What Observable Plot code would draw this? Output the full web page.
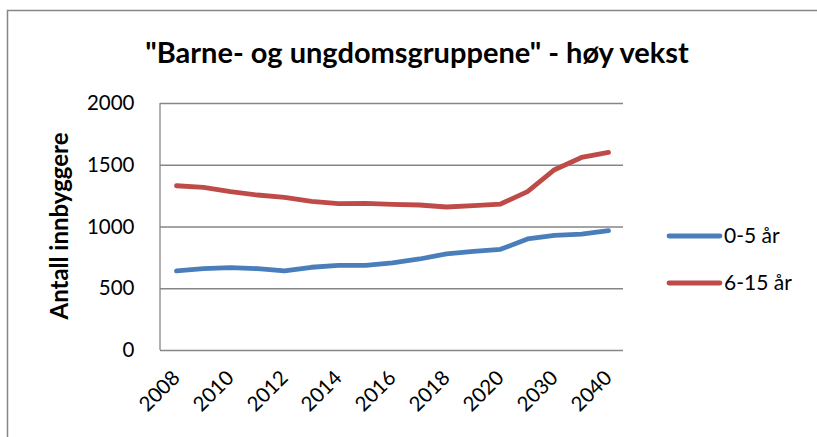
<!DOCTYPE html>
<html>
<head>
<meta charset="utf-8">
<script src="https://cdn.jsdelivr.net/npm/d3@7"></script>
<script src="https://cdn.jsdelivr.net/npm/@observablehq/plot@0.6"></script>
<style>
  html, body { margin: 0; padding: 0; background: #fff; }
  svg { display: block; }
</style>
</head>
<body>
<div id="chart"></div>
<script>
const years = ["2008","2009","2010","2011","2012","2013","2014","2015","2016","2017","2018","2019","2020","2025","2030","2035","2040"];
const tickLabels = ["2008","2010","2012","2014","2016","2018","2020","2030","2040"];
const yTicks = [0, 500, 1000, 1500, 2000];
const series0to5 = [644, 663, 671, 663, 644, 674, 690, 690, 709, 741, 782, 803, 819, 903, 933, 943, 970];
const series6to15 = [1334, 1321, 1286, 1259, 1240, 1208, 1189, 1191, 1183, 1178, 1162, 1173, 1186, 1286, 1464, 1563, 1604];
const seriesNames = ["0-5 år", "6-15 år"];
const colors = ["#4a7ebb", "#be4b48"];
const title = "\"Barne- og ungdomsgruppene\" - høy vekst";
const yLabel = "Antall innbyggere";

const data = [];
years.forEach((y, i) => {
  data.push({year: y, value: series0to5[i], group: seriesNames[0]});
  data.push({year: y, value: series6to15[i], group: seriesNames[1]});
});

const FONT = "Lato, 'Open Sans', sans-serif";

const chart = Plot.plot({
  width: 817,
  height: 437,
  marginLeft: 160,
  marginRight: 194,
  marginTop: 103,
  marginBottom: 87,
  style: {fontFamily: FONT, fontSize: "20px", color: "#000", background: "#fff"},
  x: {type: "point", domain: years, padding: 0.5},
  y: {domain: [0, 2000]},
  color: {domain: seriesNames, range: colors},
  marks: [
    Plot.gridY(yTicks, {stroke: "#868686", strokeOpacity: 1, strokeWidth: 1.3}),
    Plot.axisY({ticks: yTicks, tickSize: 0, tickPadding: 26, tickFormat: d => String(d), label: null, fontSize: 20.5}),
    Plot.axisX({ticks: tickLabels, tickSize: 0, tickRotate: -45, tickPadding: 24, label: null, fontSize: 20.5}),
    Plot.lineY(data, {x: "year", y: "value", stroke: "group", strokeWidth: 4.8, strokeLinecap: "round", strokeLinejoin: "round"})
  ]
});

document.getElementById("chart").appendChild(chart);

const svg = d3.select(chart);
const yS = chart.scale("y");
// y axis line
svg.append("line").attr("x1", 160).attr("x2", 160).attr("y1", yS.range[0]).attr("y2", yS.range[1])
  .attr("stroke", "#868686").attr("stroke-width", 1.3);
// outer border (top and left)
svg.append("path").attr("d", "M7.5,437 L7.5,10.5 L817,10.5").attr("fill", "none").attr("stroke", "#868686").attr("stroke-width", 1.5);
// title
svg.append("text").attr("x", 417).attr("y", 63).attr("text-anchor", "middle")
  .attr("font-family", FONT).attr("font-weight", "bold").attr("font-size", 29).attr("fill", "#000").text(title);
// y label
svg.append("text").attr("transform", "translate(68,226) rotate(-90)").attr("text-anchor", "middle")
  .attr("font-family", FONT).attr("font-weight", "bold").attr("font-size", 24).attr("fill", "#000").text(yLabel);
// legend
seriesNames.forEach((name, i) => {
  const yy = 236 + i * 47;
  svg.append("line").attr("x1", 669).attr("x2", 720).attr("y1", yy).attr("y2", yy)
    .attr("stroke", colors[i]).attr("stroke-width", 4.8).attr("stroke-linecap", "round");
  svg.append("text").attr("x", 724).attr("y", yy).attr("dy", "0.35em").attr("text-anchor", "start")
    .attr("font-family", FONT).attr("font-size", 21).attr("fill", "#000").text(name);
});
</script>
</body>
</html>
